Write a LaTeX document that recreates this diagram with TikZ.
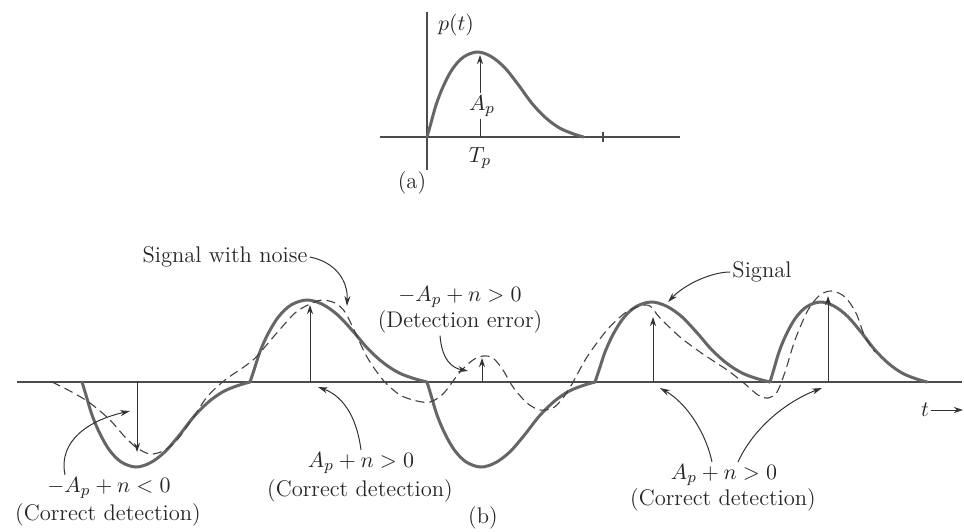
\documentclass[tikz,border=0pt]{standalone}
\usetikzlibrary{arrows.meta}
\newcommand{\pulseat}[4]{\draw[sig, shift={(#1,#2)}, xscale=#3, yscale=#4] plot[smooth, tension=0.55] coordinates {(0,0) (4,0.15) (10,0.38) (18,0.6) (28,0.8) (40,0.94) (55,1) (70,0.95) (85,0.82) (100,0.62) (115,0.4) (130,0.23) (145,0.11) (160,0.04) (172,0)};}
\begin{document}
\begin{tikzpicture}[x=0.5pt,y=-0.5pt,
  font=\fontsize{11.3}{13.5}\selectfont,
  sig/.style={line width=1.5pt, black!60, line cap=round, line join=round},
  noisy/.style={line width=0.55pt, black!75, dash pattern=on 4.5pt off 2.5pt},
  axisline/.style={line width=0.7pt, black!70},
  samp/.style={line width=0.5pt, black!80, -{Stealth[length=4.5pt,width=3pt]}},
  callout/.style={line width=0.5pt, black!80, -{Stealth[length=5pt,width=3pt]}},
  lab/.style={text=black!85, inner sep=1pt}]
\useasboundingbox (0,0) rectangle (964,531);
% ---------- (a) ----------
\draw[axisline] (380,137) -- (680,137);
\draw[axisline] (427,12) -- (427,170);
\draw[axisline] (603,132) -- (603,142);
\pulseat{427}{137}{0.91}{-85}
\draw[samp] (480,137) -- (480,55);
\node[lab, fill=white] (ap) at (482,106) {$A_p$};
\node[lab] (tp) at (480,158) {$T_p$};
\node[lab] (pt) at (456,25) {$p(t)$};
\node[lab] (la) at (412,183) {(a)};
% ---------- (b) ----------
\draw[axisline] (17,382) -- (962,382);
\pulseat{82}{382}{0.977}{85}
\pulseat{250}{382}{1.029}{-82}
\pulseat{427}{382}{0.977}{85}
\pulseat{595}{382}{1.017}{-80}
\pulseat{770}{382}{0.913}{-80}
\draw[noisy] plot[smooth, tension=0.5] coordinates {(52,382) (70,391) (90,403) (110,420) (125,437) (137,448) (150,454) (163,451) (177,440) (193,418) (207,397) (225,380) (253,360) (275,335) (295,313) (310,304) (322,300) (335,303) (345,312) (355,332) (367,357) (383,380) (400,395) (417,401) (430,402) (443,394) (460,372) (473,360) (483,356) (493,358) (503,370) (513,387) (527,403) (540,410) (553,408) (563,398) (572,384) (587,357) (607,330) (625,313) (640,306) (650,306) (660,318) (680,337) (700,352) (715,362) (730,372) (745,384) (758,395) (768,398) (777,392) (785,372) (795,340) (808,310) (820,295) (832,291) (845,297) (856,313) (865,337) (875,352)};
% sample arrows
\draw[samp] (137,382) -- (137,452);
\draw[samp] (310,382) -- (310,305);
\draw[samp] (482,382) -- (482,358);
\draw[samp] (653,382) -- (653,317);
\draw[samp] (828,382) -- (828,296);
% t axis label
\node[lab] (tl) at (925,410) {$t$};
\coordinate (tend) at (963,410);
\draw[samp] (tl.east) -- (tend);
% labels and callouts
\node[lab] (swn) at (225,257) {Signal with noise};
\coordinate (swnT) at (347,306);
\draw[callout] (swn.east) .. controls (335,262) and (348,280) .. (swnT);
\node[lab] (sg) at (762,272) {Signal};
\coordinate (sgT) at (668,302);
\draw[callout] (sg.west) .. controls (712,272) and (685,284) .. (sgT);
\node[lab] (de1) at (460,297) {$-A_p + n > 0$};
\node[lab] (de2) at (460,322) {(Detection error)};
\coordinate (deT) at (468,371);
\draw[callout] ([xshift=-10pt]de2.south) .. controls (442,360) and (452,368) .. (deT);
\node[lab] (l1) at (109,488) {$-A_p + n < 0$};
\node[lab] (l2) at (108,515) {(Correct detection)};
\coordinate (lT) at (130,411);
\draw[callout] ([xshift=-22pt]l1.north) .. controls (58,440) and (90,420) .. (lT);
\node[lab] (m1) at (361,463) {$A_p + n > 0$};
\node[lab] (m2) at (360,491) {(Correct detection)};
\coordinate (mT) at (318,387);
\draw[callout] (m1.north) .. controls (356,412) and (340,395) .. (mT);
\node[lab] (r1) at (724,475) {$A_p + n > 0$};
\node[lab] (r2) at (723,500) {(Correct detection)};
\coordinate (rT1) at (660,388);
\coordinate (rT2) at (822,388);
\draw[callout] ([xshift=-6pt]r1.north) .. controls (705,430) and (685,402) .. (rT1);
\draw[callout] ([xshift=7pt]r1.north) .. controls (755,425) and (790,400) .. (rT2);
\node[lab] (lb) at (483,518) {(b)};
\end{tikzpicture}
\end{document}
